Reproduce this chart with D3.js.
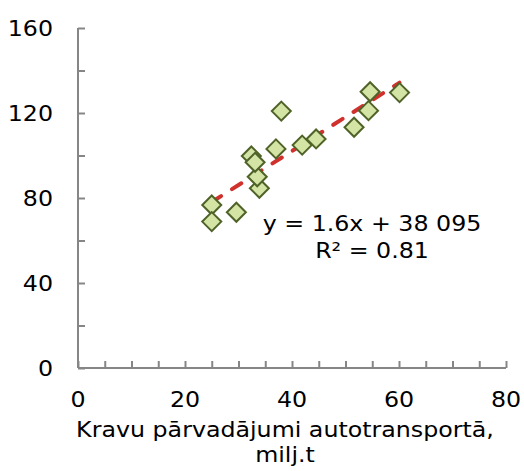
<!DOCTYPE html>
<html>
<head>
<meta charset="utf-8">
<script src="https://cdn.jsdelivr.net/npm/d3@7"></script>
<style>
  html, body { margin: 0; padding: 0; background: #fff; }
  svg { display: block; font-family: "DejaVu Sans", Verdana, sans-serif; }
</style>
</head>
<body>
<svg id="chart" width="524" height="471"></svg>
<script>
// Freight carried by road (million t) vs. index value
const xValues = [25.0, 25.0, 29.6, 33.9, 33.5, 32.4, 33.1, 37.0, 38.0, 41.9, 44.5, 51.6, 54.3, 54.6, 60.1];
const yValues = [76.7, 68.9, 73.3, 84.6, 90.0, 99.8, 96.8, 103.1, 120.9, 104.9, 107.8, 113.3, 121.1, 130.0, 129.6];
const xTicks = [0, 20, 40, 60, 80];
const yTicks = [0, 40, 80, 120, 160];
const xMinorTicks = d3.range(0, 81, 5);
const yMinorTicks = d3.range(0, 161, 20);

// Linear trend as stated by its label
const trendSlope = 1.6;
const trendIntercept = 38.095;
const trendLabel = "y = 1.6x + 38 095";
const r2Label = "R² = 0.81";
const xTitleLines = ["Kravu pārvadājumi autotransportā,", "milj.t"];

const svg = d3.select("#chart");
const x = d3.scaleLinear().domain([0, 80]).range([78, 506]);
const y = d3.scaleLinear().domain([0, 160]).range([368, 28]);
const axisColor = "#868686";
const fontSize = 21;
const stretch = 1.13;

// Text helper: wide sans lettering
function label(g, tx, ty, anchor, str) {
  return g.append("text")
    .attr("transform", `translate(${tx},${ty}) scale(${stretch},1)`)
    .attr("text-anchor", anchor)
    .attr("font-size", fontSize).attr("fill", "#000")
    .text(str);
}

// Y axis: inward ticks every 20, labels every 40
const yAxis = svg.append("g").attr("transform", `translate(${x(0)},0)`)
  .call(d3.axisRight(y).tickValues(yMinorTicks).tickSize(7).tickFormat(""));
yAxis.select(".domain").attr("d", `M0,${y(160)}V${y(0)}`);
const yLab = svg.append("g");
yTicks.forEach(d => label(yLab, 53, y(d) + 7.6, "end", d));

// X axis: inward ticks every 5, labels every 20
const xAxis = svg.append("g").attr("transform", `translate(0,${y(0)})`)
  .call(d3.axisTop(x).tickValues(xMinorTicks).tickSize(7).tickFormat(""));
xAxis.select(".domain").attr("d", `M${x(0)},0H${x(80)}`);
const xLab = svg.append("g");
xTicks.forEach(d => label(xLab, x(d), 407, "middle", d));

svg.selectAll(".domain, .tick line")
  .attr("stroke", axisColor).attr("stroke-width", 2);

// Axis title
const title = svg.append("g");
xTitleLines.forEach((t, i) => label(title, 285, 437 + i * 25, "middle", t));

// Trend line
const xMin = d3.min(xValues), xMax = d3.max(xValues);
svg.append("line")
  .attr("x1", x(xMin)).attr("y1", y(trendSlope * xMin + trendIntercept))
  .attr("x2", x(xMax)).attr("y2", y(trendSlope * xMax + trendIntercept))
  .attr("stroke", "#d0312d").attr("stroke-width", 4)
  .attr("stroke-linecap", "round").attr("stroke-dasharray", "11,13");

// Diamond markers
const pts = xValues.map((v, i) => [v, yValues[i]]);
const r = 9.5;
svg.append("g").selectAll("path").data(pts).join("path")
  .attr("transform", d => `translate(${x(d[0])},${y(d[1])})`)
  .attr("d", `M0,${-r}L${r},0L0,${r}L${-r},0Z`)
  .attr("fill", "#d3e4a5").attr("stroke", "#4f6228").attr("stroke-width", 2);

// Equation label
const eq = svg.append("g");
label(eq, 372, 230.5, "middle", trendLabel);
label(eq, 372, 258, "middle", r2Label);
</script>
</body>
</html>
